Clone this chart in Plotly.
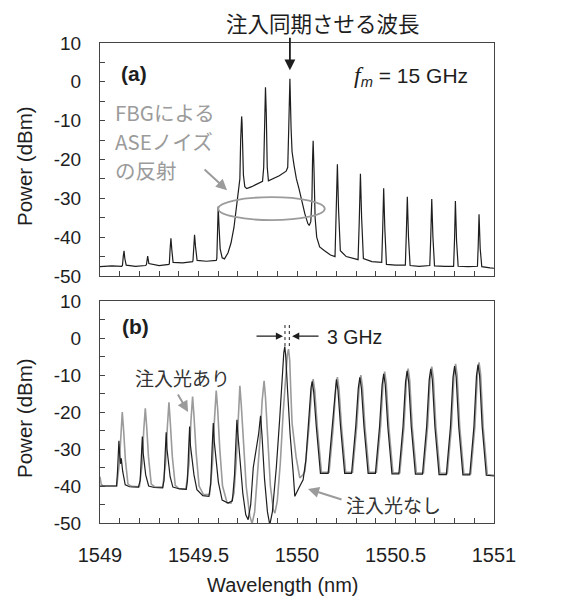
import plotly.graph_objects as go

# ---------------- spectrum data (wavelength nm, power dBm) ----------------
# (a) f_m = 15 GHz, FBG-reflected ASE around the injection-locked line
spec_a = [
    (1549.000, -47.6), (1549.060, -47.4), (1549.110, -47.5),
    (1549.114, -47.3), (1549.118, -45.0), (1549.122, -43.5), (1549.126, -45.5), (1549.133, -47.2),
    (1549.180, -47.5), (1549.232, -47.3),
    (1549.236, -47.0), (1549.242, -44.9), (1549.248, -46.8),
    (1549.300, -47.3), (1549.350, -47.0),
    (1549.352, -46.8), (1549.356, -43.0), (1549.360, -40.3), (1549.365, -43.5), (1549.371, -46.5),
    (1549.420, -46.6), (1549.470, -46.3),
    (1549.472, -46.0), (1549.476, -42.0), (1549.480, -39.4), (1549.485, -42.5), (1549.493, -46.0),
    (1549.540, -46.2), (1549.590, -46.0),
    (1549.593, -45.5), (1549.597, -38.0), (1549.600, -32.1), (1549.604, -37.0), (1549.610, -43.0),
    (1549.620, -45.3), (1549.632, -45.6),
    (1549.650, -44.0), (1549.665, -41.5), (1549.680, -37.5), (1549.692, -33.0), (1549.702, -29.0),
    (1549.710, -25.0),
    (1549.714, -15.0), (1549.717, -9.5), (1549.719, -8.9), (1549.721, -10.5), (1549.724, -18.0),
    (1549.728, -24.0), (1549.735, -27.0), (1549.745, -27.5),
    (1549.770, -27.0), (1549.800, -26.3), (1549.825, -25.6),
    (1549.831, -22.0), (1549.836, -8.0), (1549.840, -1.4), (1549.844, -8.0), (1549.849, -22.0),
    (1549.855, -25.5),
    (1549.880, -25.0), (1549.910, -24.2), (1549.945, -23.0), (1549.953, -22.0),
    (1549.958, -12.0), (1549.964, 0.8), (1549.970, -12.0), (1549.975, -18.0), (1549.985, -21.5),
    (1549.997, -25.0), (1550.010, -27.5), (1550.025, -31.0), (1550.040, -34.0), (1550.055, -36.5),
    (1550.062, -37.0), (1550.070, -36.0),
    (1550.076, -30.0), (1550.079, -20.0), (1550.082, -15.2), (1550.086, -22.0), (1550.092, -35.0),
    (1550.100, -40.0), (1550.115, -42.5), (1550.140, -43.5), (1550.170, -44.6),
    (1550.193, -45.0), (1550.199, -35.0), (1550.205, -21.2), (1550.211, -33.0), (1550.220, -43.5),
    (1550.250, -45.0), (1550.300, -45.8),
    (1550.310, -45.8), (1550.316, -36.0), (1550.322, -23.7), (1550.328, -35.0), (1550.337, -45.5),
    (1550.380, -46.3), (1550.425, -46.5),
    (1550.430, -46.5), (1550.435, -38.0), (1550.440, -27.4), (1550.446, -38.0), (1550.454, -47.0),
    (1550.500, -47.2), (1550.546, -47.3),
    (1550.550, -47.2), (1550.555, -39.0), (1550.560, -29.6), (1550.566, -40.0), (1550.574, -47.3),
    (1550.620, -47.5), (1550.670, -47.4),
    (1550.674, -47.3), (1550.679, -40.0), (1550.684, -30.2), (1550.690, -40.0), (1550.698, -47.4),
    (1550.750, -47.5), (1550.791, -47.6),
    (1550.795, -47.5), (1550.800, -40.0), (1550.804, -30.7), (1550.810, -41.0), (1550.818, -47.5),
    (1550.870, -47.6), (1550.912, -47.6),
    (1550.916, -47.5), (1550.920, -42.0), (1550.924, -34.1), (1550.930, -43.0), (1550.938, -47.6),
    (1550.980, -47.9), (1551.000, -48.0),
]

# (b) with injection light (gray)
spec_b_inj = [
    (1549.000, -37.5), (1549.006, -39.5), (1549.015, -40.0), (1549.060, -40.1), (1549.085, -40.0),
    (1549.098, -34.0), (1549.106, -25.0), (1549.113, -20.0), (1549.120, -25.0), (1549.129, -33.0),
    (1549.142, -39.5), (1549.160, -40.1),
    (1549.200, -40.2),
    (1549.214, -34.0), (1549.222, -25.0), (1549.230, -19.0), (1549.237, -24.0), (1549.246, -32.0),
    (1549.260, -39.5), (1549.280, -40.3),
    (1549.318, -40.3),
    (1549.333, -34.0), (1549.342, -24.0), (1549.350, -17.4), (1549.357, -23.0), (1549.367, -32.0),
    (1549.382, -39.8), (1549.400, -40.7),
    (1549.436, -40.8),
    (1549.452, -34.0), (1549.461, -23.0), (1549.470, -15.8), (1549.477, -21.0), (1549.488, -31.0),
    (1549.503, -40.0), (1549.525, -42.3),
    (1549.556, -42.3),
    (1549.571, -34.0), (1549.580, -23.0), (1549.590, -14.2), (1549.597, -19.0), (1549.608, -30.0),
    (1549.622, -40.0), (1549.645, -44.5), (1549.665, -44.6), (1549.680, -42.0),
    (1549.692, -33.0), (1549.701, -21.0), (1549.710, -12.9), (1549.717, -18.0), (1549.728, -29.0),
    (1549.742, -40.0), (1549.760, -48.0), (1549.772, -50.2), (1549.785, -47.0), (1549.800, -37.0),
    (1549.813, -27.0), (1549.823, -17.0), (1549.833, -11.6), (1549.840, -16.0), (1549.850, -27.0),
    (1549.865, -40.0), (1549.880, -46.5), (1549.888, -47.3), (1549.900, -44.0), (1549.915, -34.0),
    (1549.930, -20.0), (1549.945, -8.0),
    (1549.951, -4.5), (1549.957, -3.0), (1549.963, -6.0), (1549.969, -15.0), (1549.975, -23.0),
    (1549.995, -32.0), (1550.014, -37.8), (1550.030, -37.0),
    (1550.040, -36.0), (1550.061, -24.0), (1550.074, -14.1), (1550.082, -11.1), (1550.090, -14.1),
    (1550.103, -24.0), (1550.124, -36.3),
    (1550.163, -36.3), (1550.184, -24.0), (1550.197, -13.6), (1550.205, -10.6), (1550.213, -13.6),
    (1550.226, -24.0), (1550.247, -36.3),
    (1550.282, -36.3), (1550.303, -24.0), (1550.316, -13.0), (1550.324, -10.0), (1550.332, -13.0),
    (1550.345, -24.0), (1550.366, -36.3),
    (1550.403, -36.3), (1550.424, -24.0), (1550.437, -12.1), (1550.445, -9.1), (1550.453, -12.1),
    (1550.466, -24.0), (1550.487, -36.4),
    (1550.522, -36.4), (1550.543, -24.0), (1550.556, -11.3), (1550.564, -8.3), (1550.572, -11.3),
    (1550.585, -24.0), (1550.606, -36.5),
    (1550.642, -36.5), (1550.663, -24.0), (1550.676, -10.7), (1550.684, -7.7), (1550.692, -10.7),
    (1550.705, -24.0), (1550.726, -36.6),
    (1550.763, -36.6), (1550.784, -24.0), (1550.797, -10.0), (1550.805, -7.0), (1550.813, -10.0),
    (1550.826, -24.0), (1550.847, -36.7),
    (1550.882, -36.7), (1550.903, -24.0), (1550.916, -9.6), (1550.924, -6.6), (1550.932, -9.6),
    (1550.945, -24.0), (1550.966, -36.9), (1551.000, -37.1),
]

# (b) without injection light (black)
spec_b_free = [
    (1549.000, -40.0), (1549.050, -40.1), (1549.084, -40.0),
    (1549.089, -36.0), (1549.093, -31.0), (1549.096, -27.8), (1549.100, -31.5), (1549.104, -34.0),
    (1549.108, -32.5), (1549.115, -36.0), (1549.128, -39.7), (1549.150, -40.2),
    (1549.195, -40.3),
    (1549.204, -38.5), (1549.210, -32.0), (1549.215, -26.6), (1549.219, -31.0), (1549.224, -33.0),
    (1549.232, -37.0), (1549.247, -40.0), (1549.275, -40.4),
    (1549.318, -40.5),
    (1549.325, -38.5), (1549.331, -31.0), (1549.336, -25.5), (1549.340, -30.0), (1549.346, -33.0),
    (1549.356, -37.5), (1549.370, -40.3), (1549.405, -40.8),
    (1549.438, -40.9),
    (1549.444, -38.5), (1549.450, -30.0), (1549.455, -23.9), (1549.459, -29.0), (1549.466, -32.0),
    (1549.477, -37.0), (1549.492, -41.0), (1549.522, -42.6),
    (1549.553, -42.8),
    (1549.562, -39.5), (1549.569, -30.0), (1549.575, -23.0), (1549.580, -28.0), (1549.588, -33.0),
    (1549.601, -39.0), (1549.620, -43.8), (1549.650, -44.6), (1549.672, -44.0),
    (1549.683, -37.0), (1549.690, -28.0), (1549.695, -22.1), (1549.700, -26.0), (1549.710, -33.0),
    (1549.725, -42.0), (1549.740, -47.8), (1549.752, -49.1), (1549.765, -45.0), (1549.778, -35.0),
    (1549.805, -26.0), (1549.815, -21.0), (1549.822, -26.0), (1549.835, -38.0), (1549.850, -47.0),
    (1549.862, -50.5), (1549.875, -47.0), (1549.895, -35.0), (1549.912, -22.0), (1549.925, -10.0),
    (1549.933, -4.0), (1549.938, -2.3), (1549.943, -5.0), (1549.952, -14.0), (1549.965, -26.0),
    (1549.980, -36.0), (1549.989, -42.8), (1550.010, -40.5), (1550.031, -38.3),
    (1550.045, -33.0), (1550.055, -25.0), (1550.062, -22.0), (1550.066, -19.0), (1550.071, -13.5),
    (1550.077, -11.7), (1550.085, -14.7), (1550.098, -24.0), (1550.119, -36.6),
    (1550.158, -36.6), (1550.179, -24.0), (1550.192, -14.2), (1550.200, -11.2), (1550.208, -14.2),
    (1550.221, -24.0), (1550.242, -36.6),
    (1550.277, -36.6), (1550.298, -24.0), (1550.311, -13.6), (1550.319, -10.6), (1550.327, -13.6),
    (1550.340, -24.0), (1550.361, -36.6),
    (1550.398, -36.6), (1550.419, -24.0), (1550.432, -12.7), (1550.440, -9.7), (1550.448, -12.7),
    (1550.461, -24.0), (1550.482, -36.7),
    (1550.517, -36.7), (1550.538, -24.0), (1550.551, -11.9), (1550.559, -8.9), (1550.567, -11.9),
    (1550.580, -24.0), (1550.601, -36.8),
    (1550.637, -36.8), (1550.658, -24.0), (1550.671, -11.3), (1550.679, -8.3), (1550.687, -11.3),
    (1550.700, -24.0), (1550.721, -36.9),
    (1550.758, -36.9), (1550.779, -24.0), (1550.792, -10.6), (1550.800, -7.6), (1550.808, -10.6),
    (1550.821, -24.0), (1550.842, -37.0),
    (1550.877, -37.0), (1550.898, -24.0), (1550.911, -10.2), (1550.919, -7.2), (1550.927, -10.2),
    (1550.940, -24.0), (1550.961, -37.1), (1551.000, -37.3),
]

x_range = [1549, 1551]
y_range = [-50, 10]
x_tickvals = [1549, 1549.5, 1550, 1550.5, 1551]
x_ticktext = ["1549", "1549.5", "1550", "1550.5", "1551"]
y_tickvals = [10, 0, -10, -20, -30, -40, -50]
y_ticktext = ["10", "0", "-10", "-20", "-30", "-40", "-50"]

locked_wl = 1549.964        # line the injection locks to
shift_lines = [1549.939, 1549.961]  # 3 GHz offset markers

# ---------------- layout geometry (pixels) ----------------
W, H = 567, 598
L, R, T, B = 100, 73, 43, 75
PW, PH = W - L - R, H - T - B


def px(xp):
    return (xp - L) / PW


def py(yp):
    return (H - B - yp) / PH


LAT = "Liberation Sans, Arial, sans-serif"
JP = "Noto Sans CJK JP, sans-serif"
INK = "#1e1e1e"
GRAY = "#9b9b9b"

fig = go.Figure()

wl, pw = zip(*spec_a)
fig.add_trace(go.Scatter(x=wl, y=pw, mode="lines", line=dict(color=INK, width=1.2),
                         xaxis="x", yaxis="y", showlegend=False))
wl, pw = zip(*spec_b_inj)
fig.add_trace(go.Scatter(x=wl, y=pw, mode="lines", line=dict(color=GRAY, width=1.6),
                         xaxis="x2", yaxis="y2", showlegend=False))
wl, pw = zip(*spec_b_free)
fig.add_trace(go.Scatter(x=wl, y=pw, mode="lines", line=dict(color=INK, width=1.2),
                         xaxis="x2", yaxis="y2", showlegend=False))

axis_common = dict(
    showline=True, mirror=True, linecolor="#444", linewidth=1,
    showgrid=False, zeroline=False,
    tickfont=dict(family=LAT, size=19, color=INK),
    ticks="inside", ticklen=5, tickcolor="#444", tickwidth=1,
)

xa = dict(axis_common, range=x_range, tickvals=x_tickvals, ticktext=x_ticktext,
          minor=dict(dtick=0.1, ticks="inside", ticklen=5, tickcolor="#444"))
ya = dict(axis_common, range=y_range, tickvals=y_tickvals, ticktext=y_ticktext,
          minor=dict(dtick=5, ticks="inside", ticklen=5, tickcolor="#444"),
          ticklabelstandoff=14)

dom_a = [py(276), 1.0]
dom_b = [0.0, py(301)]

fig.update_layout(
    width=W, height=H,
    margin=dict(l=L, r=R, t=T, b=B, pad=0),
    paper_bgcolor="white", plot_bgcolor="white",
    xaxis=dict(xa, anchor="y", showticklabels=False),
    yaxis=dict(ya, domain=dom_a, anchor="x"),
    xaxis2=dict(xa, anchor="y2", ticklabelstandoff=14,
                tickfont=dict(family=LAT, size=20, color=INK)),
    yaxis2=dict(ya, domain=dom_b, anchor="x2"),
)

ann = []


def text(xp, yp, s, size, color=INK, family=LAT, xanchor="center", angle=0):
    ann.append(dict(x=px(xp), y=py(yp), xref="paper", yref="paper", text=s,
                    showarrow=False, xanchor=xanchor, yanchor="middle", textangle=angle,
                    font=dict(family=family, size=size, color=color)))


# headline and panel labels
text(323, 23, "注入同期させる波長", 21.5, family=JP)
text(134, 73, "<b>(a)</b>", 21)
text(135, 326, "<b>(b)</b>", 21)
text(411, 76, '<span style="font-family:Liberation Serif;font-size:24px"><i>f</i></span>'
              '<sub><i>m</i></sub> = 15 GHz', 21)
text(113, 112, "FBGによる", 20.5, GRAY, JP, "left")
text(113, 141, "ASEノイズ", 20.5, GRAY, JP, "left")
text(113, 170, "の反射", 20.5, GRAY, JP, "left")
text(182, 377, "注入光あり", 19, "#333", JP)
text(393, 504, "注入光なし", 19, "#333", JP)
text(354, 337, "3 GHz", 19.5)

# axis titles
text(24, 166, "Power (dBm)", 20.5, angle=-90)
text(24, 418, "Power (dBm)", 20.5, angle=-90)
text(283, 585, "Wavelength (nm)", 20)

# arrows
ann.append(dict(x=locked_wl, y=3.0, xref="x", yref="y", ax=0, ay=-34, text="",
                showarrow=True, arrowhead=2, arrowsize=1.2, arrowwidth=1.8, arrowcolor=INK))
ann.append(dict(x=1549.645, y=-27.9, xref="x", yref="y", ax=-24, ay=-22, text="",
                showarrow=True, arrowhead=2, arrowsize=1.1, arrowwidth=2, arrowcolor=GRAY))
ann.append(dict(x=1549.447, y=-20.0, xref="x2", yref="y2", ax=-11, ay=-19, text="",
                showarrow=True, arrowhead=2, arrowsize=1.1, arrowwidth=2, arrowcolor=GRAY))
ann.append(dict(x=1550.056, y=-40.8, xref="x2", yref="y2", ax=35, ay=11, text="",
                showarrow=True, arrowhead=2, arrowsize=1.1, arrowwidth=2, arrowcolor=GRAY))
ann.append(dict(x=1549.929, y=0.5, xref="x2", yref="y2", ax=-28, ay=0, text="",
                showarrow=True, arrowhead=2, arrowsize=1.1, arrowwidth=1.3, arrowcolor=INK))
ann.append(dict(x=1549.975, y=0.5, xref="x2", yref="y2", ax=28, ay=0, text="",
                showarrow=True, arrowhead=2, arrowsize=1.1, arrowwidth=1.3, arrowcolor=INK))

fig.update_layout(annotations=ann)

# ellipse marking the reflected ASE band, and the 3 GHz offset markers
shapes = [dict(type="circle", xref="x", yref="y", x0=1549.600, x1=1550.141,
               y0=-35.6, y1=-29.7, line=dict(color=GRAY, width=1.8), layer="above")]
for xv in shift_lines:
    shapes.append(dict(type="line", xref="x2", yref="y2", x0=xv, x1=xv, y0=3.5, y1=-2.4,
                       line=dict(color=INK, width=1, dash="dot")))
fig.update_layout(shapes=shapes)

fig.write_html("out.html")
